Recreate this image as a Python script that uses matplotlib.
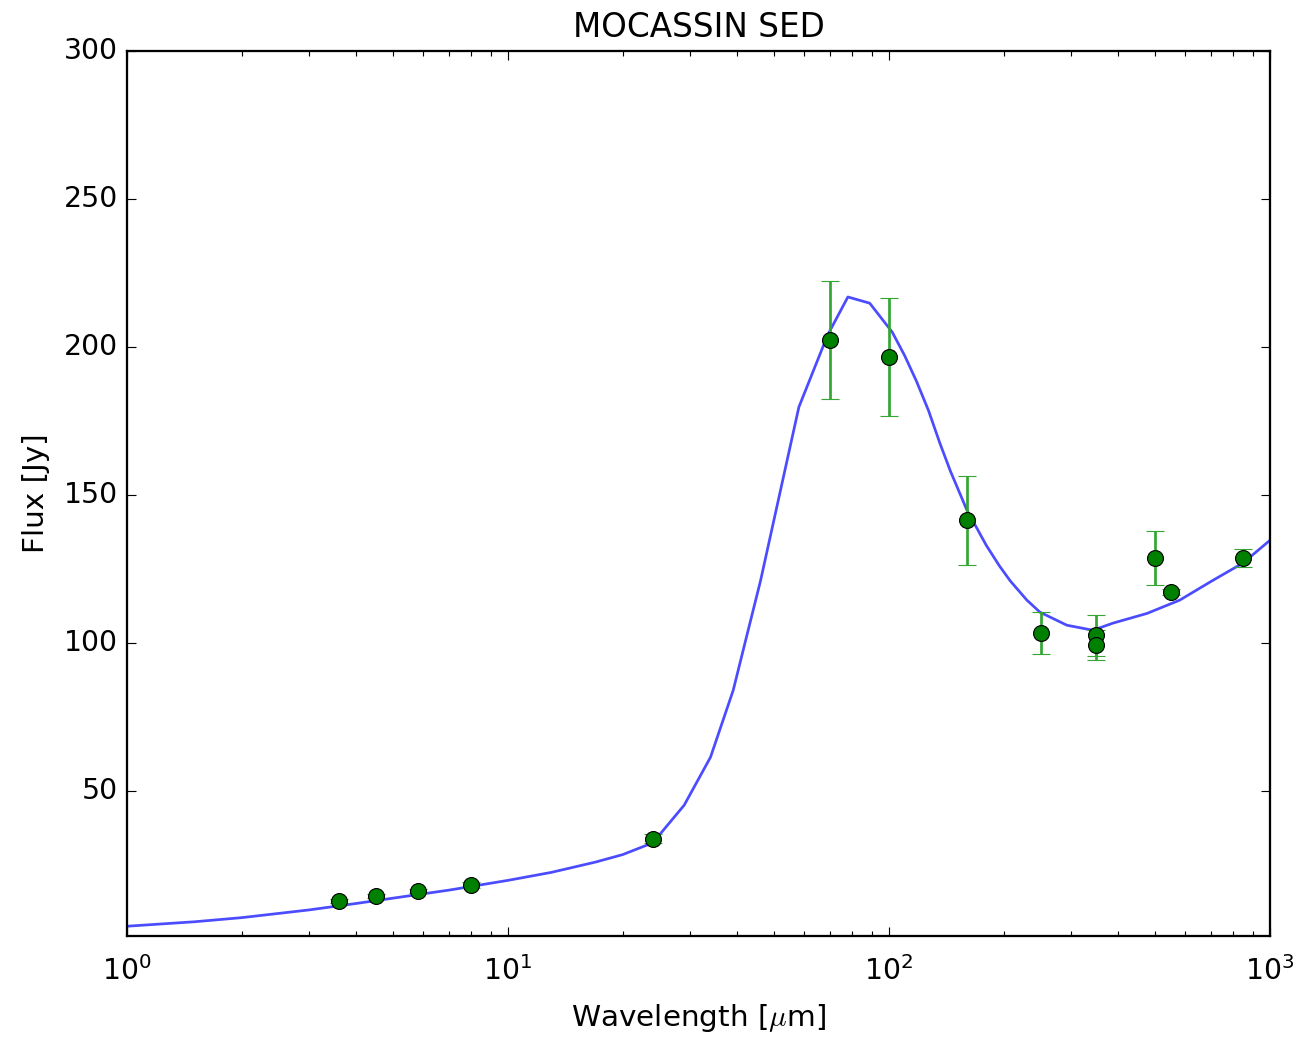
import matplotlib
matplotlib.use("Agg")
import matplotlib.pyplot as plt

# model SED
model_wl = [1, 1.5, 2, 3, 4, 5, 7, 10, 13, 17, 20, 24, 29, 34, 39, 42.5, 46,
            58, 69, 78, 89, 102, 110, 118, 127, 136, 145, 160, 180, 195, 208,
            230, 249, 293, 343, 387, 476, 580, 709, 849, 1000]
model_flux = [4.3, 5.8, 7.2, 9.8, 12.0, 13.8, 16.5, 19.8, 22.5, 26.0, 28.5,
              32.5, 45.2, 61.4, 84.0, 103.3, 121.0, 179.7, 204.0, 216.9,
              214.8, 205.0, 197.0, 188.5, 178.5, 167.5, 158.0, 145.0, 133.0,
              126.0, 121.0, 114.5, 110.4, 106.0, 104.3, 106.7, 110.0, 114.5,
              121.2, 127.0, 134.7]

# photometry
obs_wl = [3.6, 4.5, 5.8, 8.0, 24, 70, 100, 160, 250, 350, 350, 500, 550, 850]
obs_flux = [12.8, 14.5, 16.2, 18.2, 33.8, 202.3, 196.6, 141.5, 103.3, 102.6,
            99.3, 128.7, 117.2, 128.7]
obs_err = [0.6, 0.7, 0.8, 0.9, 1.5, 20, 20, 15, 7, 7, 5, 9, 1, 3]

plt.style.use("classic")
dpi = 163.25
fig = plt.figure(figsize=(1306 / dpi, 1039 / dpi), dpi=dpi, facecolor="white")
ax = fig.add_axes([127 / 1306, 103 / 1039, 1143 / 1306, 885 / 1039])

ax.plot(model_wl, model_flux, color="b", alpha=0.7, lw=1.2)
ax.errorbar(obs_wl, obs_flux, yerr=obs_err, fmt="o", color="g", mec="k",
            mew=0.5, ms=7, ecolor=(0.2, 0.65, 0.2), elinewidth=1.2,
            capsize=4, capthick=1.0)

ax.set_xscale("log")
ax.set_xlim(1, 1000)
ax.set_ylim(1, 300)
ax.set_yticks([50, 100, 150, 200, 250, 300])

ax.set_title("MOCASSIN SED", fontsize=14.4, y=1.003)
ax.set_xlabel(r"Wavelength [$\mu$m]", fontsize=13, labelpad=7)
ax.set_ylabel("Flux [Jy]", fontsize=13, labelpad=6)
ax.tick_params(labelsize=12.5)
ax.tick_params(axis="x", which="both", pad=9)

fig.savefig("out.png", dpi=dpi, facecolor="white")
